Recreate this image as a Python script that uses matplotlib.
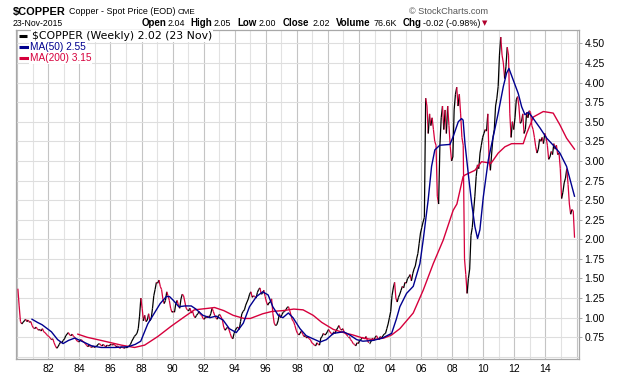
import numpy as np
import matplotlib
matplotlib.use("Agg")
import matplotlib.pyplot as plt
from matplotlib.collections import LineCollection
from matplotlib.lines import Line2D

# monthly closes, Jan 1980 .. Nov 2015
close = [
    1.37, 1.15, 0.95, 0.92, 0.94, 0.96, 0.98, 0.95, 0.97, 0.94, 0.95, 0.90,  # 1980
    0.87, 0.86, 0.88, 0.86, 0.84, 0.85, 0.83, 0.86, 0.82, 0.81, 0.79, 0.77,  # 1981
    0.76, 0.74, 0.72, 0.73, 0.68, 0.64, 0.61, 0.63, 0.66, 0.69, 0.68, 0.71,  # 1982
    0.73, 0.77, 0.79, 0.81, 0.78, 0.77, 0.79, 0.76, 0.75, 0.72, 0.70, 0.69,  # 1983
    0.71, 0.72, 0.70, 0.69, 0.67, 0.65, 0.63, 0.65, 0.63, 0.62, 0.64, 0.62,  # 1984
    0.63, 0.64, 0.66, 0.67, 0.65, 0.64, 0.66, 0.64, 0.63, 0.65, 0.64, 0.65,  # 1985
    0.66, 0.65, 0.66, 0.65, 0.63, 0.64, 0.62, 0.61, 0.63, 0.62, 0.61, 0.62,  # 1986
    0.62, 0.63, 0.64, 0.66, 0.70, 0.73, 0.76, 0.78, 0.80, 0.86, 1.02, 1.25,  # 1987
    1.12, 0.96, 1.03, 0.95, 0.97, 1.05, 0.96, 0.99, 1.12, 1.28, 1.36, 1.45,  # 1988
    1.44, 1.48, 1.40, 1.36, 1.24, 1.18, 1.22, 1.33, 1.28, 1.22, 1.12, 1.07,  # 1989
    1.08, 1.07, 1.18, 1.22, 1.16, 1.12, 1.24, 1.30, 1.28, 1.20, 1.12, 1.10,  # 1990
    1.10, 1.12, 1.06, 1.08, 1.02, 1.00, 1.03, 1.05, 1.08, 1.04, 1.03, 0.99,  # 1991
    0.98, 1.01, 1.00, 1.02, 1.01, 1.05, 1.12, 1.08, 1.03, 1.00, 0.98, 1.03,  # 1992
    1.04, 1.01, 0.97, 0.88, 0.84, 0.86, 0.88, 0.85, 0.80, 0.75, 0.73, 0.80,  # 1993
    0.84, 0.87, 0.88, 0.85, 0.95, 1.05, 1.08, 1.10, 1.16, 1.20, 1.24, 1.30,  # 1994
    1.33, 1.26, 1.28, 1.27, 1.25, 1.32, 1.36, 1.38, 1.30, 1.31, 1.35, 1.27,  # 1995
    1.20, 1.16, 1.19, 1.20, 1.24, 1.05, 0.93, 0.90, 0.91, 0.96, 1.05, 1.00,  # 1996
    1.04, 1.07, 1.08, 1.10, 1.13, 1.14, 1.09, 1.03, 0.97, 0.95, 0.90, 0.84,  # 1997
    0.80, 0.78, 0.80, 0.83, 0.79, 0.76, 0.77, 0.74, 0.76, 0.73, 0.72, 0.68,  # 1998
    0.67, 0.65, 0.64, 0.68, 0.66, 0.65, 0.74, 0.76, 0.80, 0.78, 0.79, 0.82,  # 1999
    0.85, 0.82, 0.80, 0.78, 0.82, 0.80, 0.84, 0.87, 0.90, 0.86, 0.84, 0.86,  # 2000
    0.82, 0.80, 0.78, 0.76, 0.76, 0.72, 0.70, 0.67, 0.66, 0.64, 0.68, 0.67,  # 2001
    0.71, 0.72, 0.75, 0.74, 0.73, 0.76, 0.71, 0.68, 0.68, 0.70, 0.74, 0.71,  # 2002
    0.75, 0.77, 0.74, 0.72, 0.76, 0.74, 0.77, 0.79, 0.80, 0.86, 0.92, 1.00,  # 2003
    1.08, 1.28, 1.38, 1.45, 1.25, 1.20, 1.26, 1.30, 1.35, 1.40, 1.38, 1.45,  # 2004
    1.44, 1.50, 1.52, 1.55, 1.47, 1.56, 1.62, 1.66, 1.75, 1.82, 1.95, 2.08,  # 2005
    2.15, 2.22, 2.28, 3.80, 3.70, 3.35, 3.60, 3.45, 3.55, 3.40, 3.25, 3.20,  # 2006
    2.55, 2.45, 3.20, 3.55, 3.70, 3.40, 3.65, 3.35, 3.70, 3.45, 3.18, 3.00,  # 2007
    3.05, 3.65, 3.85, 3.94, 3.70, 3.85, 3.60, 3.30, 3.20, 1.75, 1.55, 1.31,  # 2008
    1.50, 1.62, 2.05, 2.15, 2.35, 2.55, 2.80, 2.95, 2.90, 3.10, 3.20, 3.30,  # 2009
    3.35, 3.40, 3.38, 3.60, 3.00, 2.88, 3.10, 3.30, 3.40, 3.70, 3.80, 3.95,  # 2010
    4.35, 4.58, 4.35, 4.25, 4.05, 4.20, 4.45, 4.35, 3.60, 3.30, 3.50, 3.40,  # 2011
    3.55, 3.78, 3.82, 3.70, 3.48, 3.50, 3.60, 3.35, 3.40, 3.62, 3.55, 3.64,  # 2012
    3.62, 3.45, 3.40, 3.30, 3.18, 3.10, 3.15, 3.28, 3.25, 3.30, 3.22, 3.35,  # 2013
    3.30, 3.20, 3.02, 3.05, 3.12, 3.08, 3.22, 3.15, 3.20, 3.08, 3.10, 2.90,  # 2014
    2.52, 2.60, 2.72, 2.78, 2.90, 2.70, 2.45, 2.32, 2.38, 2.36, 2.02,        # 2015
]

ma50_t = [1980.95, 1981.3, 1981.6, 1982.2, 1982.6, 1982.95, 1983.3, 1983.7, 1984.15, 1984.8,
          1985.4, 1986.3, 1987.15, 1987.6, 1987.95, 1988.4, 1988.8, 1989.2, 1989.6, 1989.8,
          1990.05, 1990.4, 1990.8, 1991.2, 1991.5, 1991.95, 1992.4, 1992.8, 1993.25, 1993.65,
          1994.1, 1994.55, 1994.95, 1995.4, 1995.8, 1996.15, 1996.45, 1996.8, 1997.1, 1997.45,
          1997.75, 1998.2, 1998.6, 1999.05, 1999.5, 1999.9, 2000.35, 2001.0, 2001.4, 2001.85,
          2002.25, 2002.9, 2003.5, 2004.1, 2004.4, 2004.63, 2005.06, 2005.49, 2005.92, 2006.13,
          2006.45, 2006.67, 2006.88, 2007.2, 2007.85, 2008.06, 2008.39, 2008.6, 2008.7, 2008.82,
          2009.03, 2009.25, 2009.46, 2009.63, 2009.78, 2010.0, 2010.32, 2010.64, 2010.96, 2011.29,
          2011.5, 2011.65, 2011.93, 2012.25, 2012.47, 2012.68, 2012.9, 2013.11, 2013.65, 2014.08,
          2014.5, 2014.93, 2015.36, 2015.87]
ma50_v = [0.98, 0.94, 0.91, 0.82, 0.72, 0.67, 0.71, 0.74, 0.70, 0.64,
          0.62, 0.62, 0.63, 0.66, 0.70, 0.92, 1.05, 1.18, 1.27, 1.27,
          1.22, 1.14, 1.15, 1.15, 1.11, 1.03, 1.00, 1.02, 0.97, 0.86,
          0.81, 0.93, 1.14, 1.27, 1.33, 1.29, 1.14, 1.03, 1.00, 1.06,
          1.00, 0.86, 0.77, 0.73, 0.69, 0.72, 0.80, 0.82, 0.78, 0.72,
          0.70, 0.71, 0.74, 0.80, 0.98, 1.14, 1.31, 1.40, 1.69, 1.99,
          2.50, 2.93, 3.14, 3.20, 3.21, 3.31, 3.50, 3.54, 3.52, 3.22,
          2.84, 2.46, 2.16, 2.01, 2.12, 2.54, 3.01, 3.31, 3.61, 3.95,
          4.12, 4.18, 4.03, 3.86, 3.69, 3.59, 3.62, 3.57, 3.42, 3.29,
          3.20, 3.10, 2.93, 2.55]

ma200_t = [1983.9, 1984.5, 1985.4, 1986.7, 1987.55, 1988.2, 1989.05, 1989.9, 1990.75, 1991.4,
           1992.3, 1992.7, 1993.3, 1993.9, 1994.6, 1995.0, 1995.8, 1996.4, 1997.1, 1997.8,
           1998.4, 1999.05, 1999.6, 2000.35, 2001.0, 2001.6, 2002.25, 2002.9, 2003.6, 2004.1,
           2004.63, 2005.49, 2006.13, 2006.78, 2007.42, 2008.06, 2008.3, 2008.7, 2008.82, 2009.46,
           2009.89, 2010.5, 2010.96, 2011.39, 2011.82, 2012.57, 2012.79, 2013.22, 2013.86, 2014.5,
           2014.93, 2015.36, 2015.87]
ma200_v = [0.79, 0.75, 0.71, 0.65, 0.62, 0.65, 0.76, 0.89, 1.01, 1.10,
           1.12, 1.13, 1.09, 1.03, 0.99, 0.99, 1.05, 1.08, 1.09, 1.11,
           1.10, 1.03, 0.94, 0.85, 0.81, 0.78, 0.74, 0.72, 0.74, 0.78,
           0.86, 1.06, 1.35, 1.69, 1.99, 2.37, 2.45, 2.80, 2.82, 2.88,
           2.99, 2.97, 3.10, 3.18, 3.22, 3.22, 3.35, 3.56, 3.63, 3.61,
           3.46, 3.29, 3.15]

year_ticks = [1982, 1984, 1986, 1988, 1990, 1992, 1994, 1996, 1998,
              2000, 2002, 2004, 2006, 2008, 2010, 2012, 2014]
year_labels = ['82', '84', '86', '88', '90', '92', '94', '96', '98',
               '00', '02', '04', '06', '08', '10', '12', '14']
price_ticks = [0.75, 1.00, 1.25, 1.50, 1.75, 2.00, 2.25, 2.50, 2.75,
               3.00, 3.25, 3.50, 3.75, 4.00, 4.25, 4.50]

RED = '#d6003c'
BLUE = '#00008f'
W, H = 620, 376


def fx(px):
    return px / W


def fy(py):
    return 1 - py / H


fig = plt.figure(figsize=(W / 100, H / 100), dpi=100)
ax = fig.add_axes([fx(16), fy(359), fx(579) - fx(16), fy(30) - fy(359)])

# grid: every year, even years darker
for yr in range(1980, 2017):
    ax.axvline(yr, color='#c4c4c4' if yr % 2 == 0 else '#e2e2e2', lw=0.8, zorder=0)
for lvl in np.arange(0.5, 4.76, 0.25):
    ax.axhline(lvl, color='#dedede', lw=0.8, zorder=0)

# price line, black when rising, red when falling
t = 1980.04 + np.arange(len(close)) / 12.0
pts = np.column_stack([t, close])
segs = np.stack([pts[:-1], pts[1:]], axis=1)
cols = np.where(np.diff(close) >= 0, 'black', RED)
ax.add_collection(LineCollection(segs, colors=cols, linewidths=0.9, zorder=2))

ax.plot(ma200_t, ma200_v, color=RED, lw=1.0, zorder=3)
ax.plot(ma50_t, ma50_v, color=BLUE, lw=1.0, zorder=3)

ax.set_xlim(1979.92, 2016.16)
ax.set_ylim(0.473, 4.67)
ax.yaxis.tick_right()
ax.set_yticks(price_ticks)
ax.set_yticklabels(['%.2f' % v for v in price_ticks])
ax.set_xticks(year_ticks)
ax.set_xticklabels(year_labels)
ax.tick_params(axis='y', length=2, width=0.6, color='#999999', pad=2)
ax.tick_params(axis='x', length=0, pad=3.5)
for lab in ax.get_xticklabels() + ax.get_yticklabels():
    lab.set_fontfamily('Liberation Sans')
    lab.set_fontsize(7.5)
for sp in ax.spines.values():
    sp.set_color('#a8a8a8')
    sp.set_linewidth(0.9)

# header
fig.text(fx(13), fy(14.5), r'\$COPPER', fontsize=7.9, fontweight='bold',
         family='Liberation Sans', va='baseline')
fig.text(fx(69), fy(14), 'Copper - Spot Price (EOD)', fontsize=6.4,
         family='Liberation Sans', va='baseline')
fig.text(fx(178), fy(14), 'CME', fontsize=5.9, family='Liberation Sans', va='baseline')
fig.text(fx(488), fy(14), '\u00a9 StockCharts.com', fontsize=6.6, color='#555555',
         family='Liberation Sans', va='baseline', ha='right')
fig.text(fx(13), fy(26.5), '23-Nov-2015', fontsize=6.2, family='Liberation Sans', va='baseline')

row = [(142, 'Open', True), (168, '2.04', False), (190, 'High', True), (214, '2.05', False),
       (237, 'Low', True), (259, '2.00', False), (283, 'Close', True), (313, '2.02', False),
       (336, 'Volume', True), (373, '76.6K', False), (403, 'Chg', True),
       (423, '-0.02 (-0.98%)', False)]
for px, s, bold in row:
    fig.text(fx(px), fy(26.5), s, fontsize=7 if bold else 6.4,
             fontweight='bold' if bold else 'normal', family='Liberation Sans', va='baseline')
fig.text(fx(482), fy(25.5), '\u25bc', fontsize=5, color='#b0002c', family='DejaVu Sans',
         va='baseline')

# legend inside the plot
leg = [(36, 32, r'\$COPPER (Weekly) 2.02 (23 Nov)', 'black', 'DejaVu Sans', 7.8, 27),
       (47, 30, 'MA(50) 2.55', BLUE, 'Liberation Sans', 7.3, 29.5),
       (58, 30, 'MA(200) 3.15', RED, 'Liberation Sans', 7.3, 29.5)]
for py, px, s, c, fam, fs, x2 in leg:
    fig.text(fx(px), fy(py), s, color=c, family=fam, fontsize=fs, va='center',
             bbox=dict(fc='white', ec='none', pad=0.6))
    fig.add_artist(Line2D([fx(19.5), fx(x2)], [fy(py), fy(py)], transform=fig.transFigure,
                          color=c, lw=2.2, solid_capstyle='butt'))

fig.savefig('out.png', dpi=100)
